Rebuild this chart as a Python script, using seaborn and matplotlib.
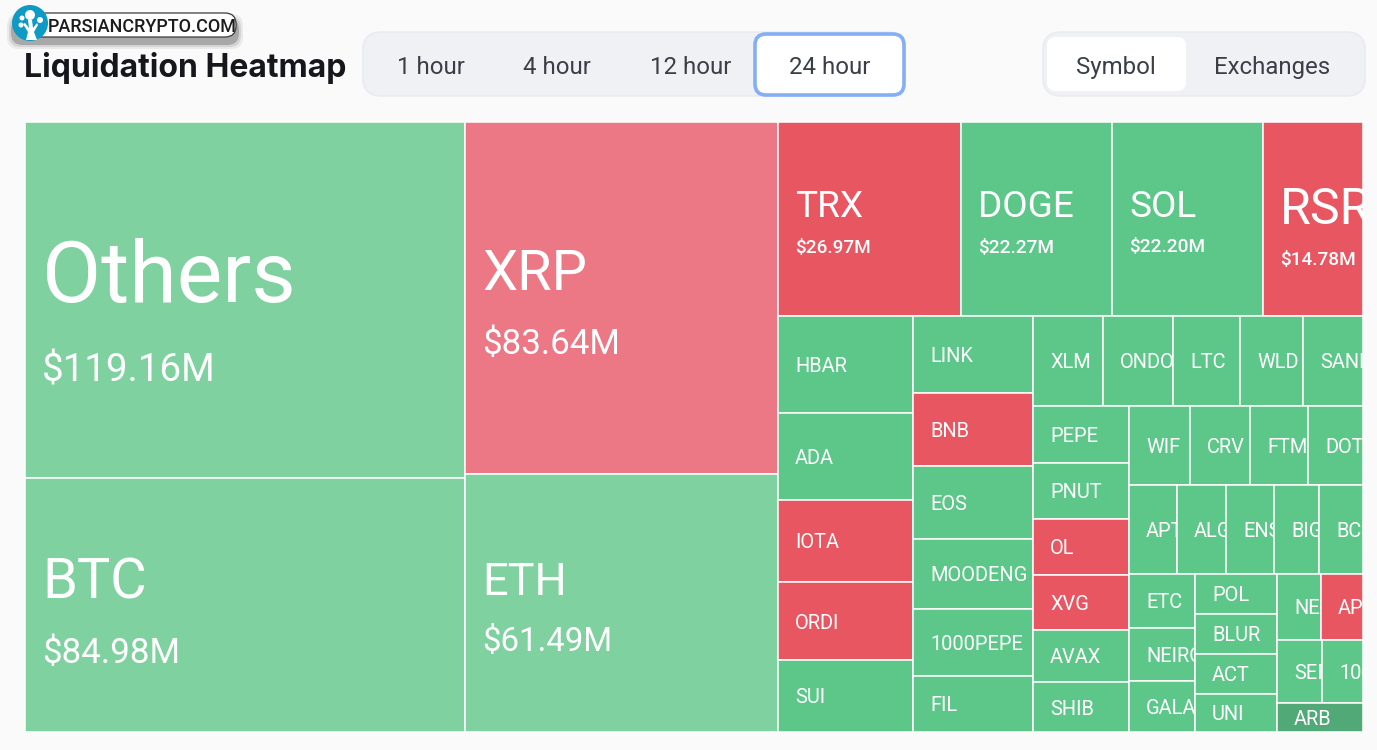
import pandas as pd
import matplotlib
matplotlib.use("Agg")
import matplotlib.pyplot as plt
from matplotlib.patches import Circle, FancyBboxPatch, Polygon, Rectangle
import seaborn as sns

# liquidations per symbol, $M (only the big ones are printed, the rest)
# some names are cut off by their cell in the picture, those stay as far as they can be read
symbols = ["Others", "BTC", "XRP", "ETH", "TRX", "DOGE", "SOL", "RSR",
           "HBAR", "ADA", "IOTA", "ORDI", "SUI",
           "LINK", "BNB", "EOS", "MOODENG", "1000PEPE", "FIL",
           "XLM", "ONDO", "LTC", "WLD", "SAND",
           "PEPE", "PNUT", "OL", "XVG", "AVAX", "SHIB",
           "WIF", "CRV", "FTM", "DOT",
           "APT", "ALG", "ENS", "BIG", "BC",
           "ETC", "NEIRO", "GALA", "POL", "BLUR", "ACT", "UNI",
           "NE", "AP", "SEI", "100", "ARB"]
values = [119.16, 84.98, 83.64, 61.49, 26.97, 22.27, 22.20, 14.78,
          9.96, 8.93, 8.42, 8.00, 7.39,
          7.03, 6.66, 6.66, 6.39, 6.11, 5.11,
          4.79, 4.79, 4.59, 4.31, 4.11,
          4.16, 4.09, 4.09, 4.02, 3.80, 3.65,
          3.66, 3.60, 3.48, 3.30,
          3.25, 3.31, 3.25, 3.05, 2.98,
          2.71, 2.66, 2.56, 2.49, 2.49, 2.49, 2.37,
          2.21, 2.11, 2.16, 1.96, 1.90]
short_side = ["XRP", "TRX", "RSR", "IOTA", "ORDI", "BNB", "OL", "XVG", "AP"]
printed = ["Others", "BTC", "XRP", "ETH", "TRX", "DOGE", "SOL", "RSR"]
time_tabs = ["1 hour", "4 hour", "12 hour", "24 hour"]
group_tabs = ["Symbol", "Exchanges"]

# how the treemap nests: h = side by side, v = stacked
tree = ("h", [
    ("v", ["Others", "BTC"]),
    ("v", ["XRP", "ETH"]),
    ("v", [
        ("h", ["TRX", "DOGE", "SOL", "RSR"]),
        ("h", [
            ("v", ["HBAR", "ADA", "IOTA", "ORDI", "SUI"]),
            ("v", ["LINK", "BNB", "EOS", "MOODENG", "1000PEPE", "FIL"]),
            ("v", [
                ("h", ["XLM", "ONDO", "LTC", "WLD", "SAND"]),
                ("h", [
                    ("v", ["PEPE", "PNUT", "OL", "XVG", "AVAX", "SHIB"]),
                    ("v", [
                        ("h", ["WIF", "CRV", "FTM", "DOT"]),
                        ("h", ["APT", "ALG", "ENS", "BIG", "BC"]),
                        ("h", [
                            ("v", ["ETC", "NEIRO", "GALA"]),
                            ("v", ["POL", "BLUR", "ACT", "UNI"]),
                            ("v", [("h", ["NE", "AP"]), ("h", ["SEI", "100"]), "ARB"]),
                        ]),
                    ]),
                ]),
            ]),
        ]),
    ]),
])

GREEN, GREEN_LIGHT, GREEN_DARK = "#5dc78a", "#7fd2a0", "#50a976"
RED, RED_LIGHT = "#e75661", "#ec7885"
# symbol: name px, value px, name offset, value offset from the cell centre
label_styles = {
    "Others": (86, 38.5, -30, 67), "BTC": (56, 35, -28, 45),
    "XRP": (56, 35, -29, 43), "ETH": (45, 33, -24, 36),
    "TRX": (37, 19, -16, 27), "DOGE": (37, 19, -16, 27),
    "SOL": (37, 19, -16, 26), "RSR": (50, 19, -14, 39),
}
FONT = "Roboto"


def px(size):
    return size * 0.72


def total(node, lookup):
    if isinstance(node, str):
        return lookup[node]
    return sum(total(child, lookup) for child in node[1])


def layout(node, box, lookup, out):
    if isinstance(node, str):
        out[node] = box
        return
    x, y, w, h = box
    whole = total(node, lookup)
    for child in node[1]:
        share = total(child, lookup) / whole
        if node[0] == "h":
            layout(child, (x, y, w * share, h), lookup, out)
            x += w * share
        else:
            layout(child, (x, y, w, h * share), lookup, out)
            y += h * share


def cell_color(row):
    if row["symbol"] == "ARB":
        return GREEN_DARK
    if row["side"] == "short":
        return RED_LIGHT if row["value"] > 60 else RED
    return GREEN_LIGHT if row["value"] > 60 else GREEN


def clipped_label(ax, rect, x, y, text, **kw):
    t = ax.text(x, y, text, color="white", family=FONT, ha="left", va="center_baseline", **kw)
    t.set_clip_path(rect)
    t.set_clip_on(True)


def draw_treemap(ax, df):
    lookup = dict(zip(df["symbol"], df["value"]))
    boxes = {}
    layout(tree, (25, 122, 1338, 610), lookup, boxes)
    for _, row in df.iterrows():
        x, y, w, h = boxes[row["symbol"]]
        rect = Rectangle((x, y), w, h, facecolor=cell_color(row), edgecolor="white", linewidth=1.1)
        ax.add_patch(rect)
        name_px, value_px, name_off, value_off = label_styles.get(row["symbol"], (20, 0, 0, 0))
        mid = y + h / 2
        clipped_label(ax, rect, x + 17, mid + name_off, row["symbol"], fontsize=px(name_px))
        if row["symbol"] in printed:
            clipped_label(ax, rect, x + 17, mid + value_off, f"${row['value']:.2f}M",
                          fontsize=px(value_px),
                          weight="medium" if value_px < 25 else "normal")


def pill(ax, x, y, w, h, r, **kw):
    ax.add_patch(FancyBboxPatch((x + r, y + r), w - 2 * r, h - 2 * r,
                                boxstyle=f"round,pad={r},rounding_size={r}", **kw))


def draw_header(ax):
    ax.text(24, 65, "Liquidation Heatmap", fontsize=px(32), family="Inter", weight="bold",
            color="#15171c", ha="left", va="center_baseline")

    pill(ax, 363, 32, 542, 64, 18, facecolor="#f0f1f5", edgecolor="#e8eaee", linewidth=1)
    pill(ax, 755, 34, 149, 61, 11, facecolor="white", edgecolor="#85aef5", linewidth=2.6)
    for label, cx in zip(time_tabs, [431, 557, 690.5, 830]):
        ax.text(cx, 65, label, fontsize=px(24), family=FONT, color="#3a3f47",
                ha="center", va="center_baseline")

    pill(ax, 1043, 32, 322, 64, 18, facecolor="#f0f1f5", edgecolor="#e8eaee", linewidth=1)
    pill(ax, 1047, 37, 139, 54, 9, facecolor="white", edgecolor="none")
    for label, cx in zip(group_tabs, [1116, 1272.5]):
        ax.text(cx, 65, label, fontsize=px(24), family=FONT, color="#3a3f47",
                ha="center", va="center_baseline")


def draw_badge(ax):
    for grow, alpha in [(5, 0.12), (3, 0.2), (1, 0.5)]:
        pill(ax, 12 - grow, 13 - grow + 6, 226 + 2 * grow, 25 + 2 * grow, 12,
             facecolor="#7d7d7d", edgecolor="none", alpha=alpha)
    pill(ax, 30, 13, 206, 24, 11, facecolor="white", edgecolor="#3a3a3a", linewidth=0.9)
    ax.text(48, 25.5, "PARSIANCRYPTO.COM", fontsize=px(18), family="Roboto", weight="medium",
            color="#1c1c1c", ha="left", va="center_baseline")

    ax.add_patch(Circle((30, 23), 18, facecolor="#0e9ac4", edgecolor="none"))
    for cx, cy, r in [(30, 15, 5), (40, 20, 3), (22, 18, 2.5), (21, 25, 2.5)]:
        ax.add_patch(Circle((cx, cy), r, facecolor="white", edgecolor="none"))
    ax.add_patch(Polygon([(28, 20), (32, 20), (33, 28), (37, 23), (38, 25), (34, 32), (37, 40),
                          (26, 40), (28, 32), (23, 24), (25, 23), (29, 28)],
                         closed=True, facecolor="white", edgecolor="none"))


sns.set_theme(style="white")
fig = plt.figure(figsize=(13.77, 7.5), dpi=100, facecolor="#fafafa")
ax = fig.add_axes([0, 0, 1, 1])
ax.set_xlim(0, 1377)
ax.set_ylim(750, 0)
ax.axis("off")

df = pd.DataFrame({"symbol": symbols, "value": values})
df["side"] = ["short" if s in short_side else "long" for s in symbols]

draw_treemap(ax, df)
draw_header(ax)
draw_badge(ax)

fig.savefig("out.png", dpi=100, facecolor=fig.get_facecolor())
plt.close(fig)
